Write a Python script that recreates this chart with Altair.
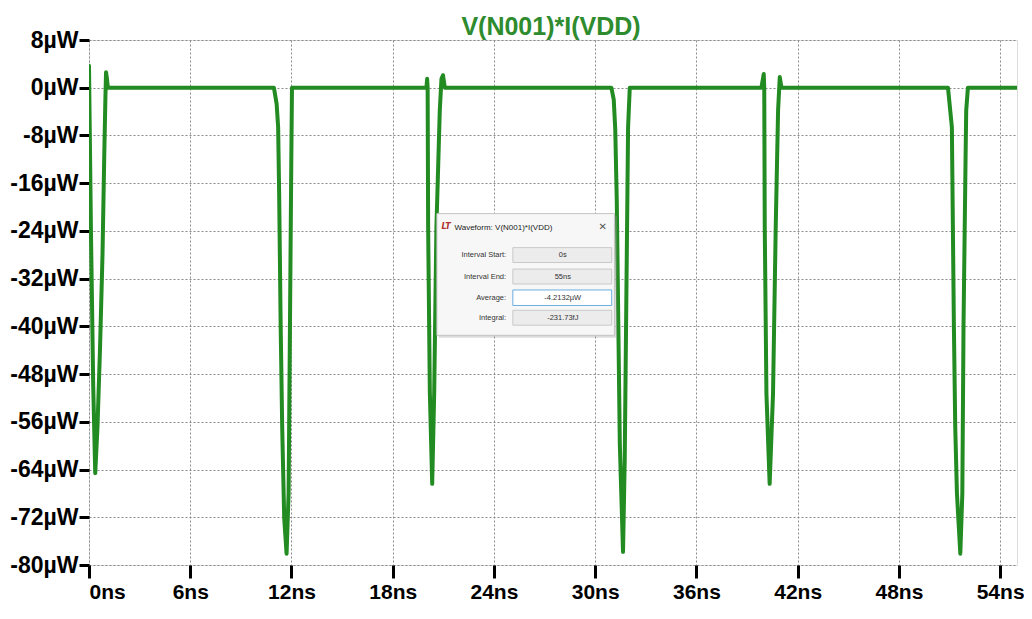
import altair as alt
import pandas as pd

# ---- waveform samples ----
time_ns = [0.00, 0.12, 0.25, 0.37, 0.50, 0.65, 0.80, 0.90, 0.97, 1.01, 1.06, 1.12,
           10.96, 11.12, 11.21, 11.27, 11.36, 11.45, 11.57, 11.71, 11.83, 11.91, 11.99, 12.03,
           20.00, 20.04, 20.07, 20.10, 20.20, 20.34, 20.46, 20.59, 20.79, 20.89, 20.98, 21.09,
           30.96, 31.10, 31.19, 31.28, 31.46, 31.65, 31.75, 31.85, 31.95, 32.05,
           39.85, 39.99, 40.02, 40.05, 40.15, 40.34, 40.54, 40.70, 40.84, 40.94, 41.04,
           50.91, 51.14, 51.20, 51.26, 51.34, 51.44, 51.64, 51.76, 51.83, 51.95, 51.99, 52.09,
           55.00]
power_uw = [3.7, -25, -50, -64.6, -57, -44, -28, -12, -2, 2.6, 1.6, 0,
            0, -2.7, -6.6, -17.7, -40, -56.9, -72.2, -78.1, -68, -40, -12.2, 0,
            0, 1.5, 0, -23.4, -51, -66.4, -51, -23.4, -3.8, 1.5, 2.1, 0,
            0, -2, -7, -19, -59.7, -77.8, -62.5, -34.5, -6.6, 0,
            0, 2.3, 0, -23.4, -51.3, -66.4, -51.3, -23.4, -3.8, 1.8, 0,
            0, -6.6, -23.4, -40.1, -56.9, -68, -78.1, -68, -40, -12.2, -3.8, 0,
            0]

x_ticks = [0, 6, 12, 18, 24, 30, 36, 42, 48, 54]
y_ticks = [-80, -72, -64, -56, -48, -40, -32, -24, -16, -8, 0, 8]

title_text = "V(N001)*I(VDD)"
dialog_title = "Waveform: V(N001)*I(VDD)"
dialog_labels = ["Interval Start:", "Interval End:", "Average:", "Integral:"]
dialog_values = ["0s", "55ns", "-4.2132µW", "-231.73fJ"]

FONT = "Liberation Sans"
GREEN = "#228b22"

wave = pd.DataFrame({"t": time_ns, "p": power_uw})

xs = alt.Scale(domain=[0, 55], nice=False, zero=False)
ys = alt.Scale(domain=[-80, 8], nice=False, zero=False)

xax = alt.Axis(values=x_ticks, labelExpr="datum.value + 'ns'", title=None,
               labelFont=FONT, labelFontSize=21, labelFontWeight="bold", labelColor="black",
               tickSize=13, tickWidth=3, tickColor="black", domain=False, labelPadding=3,
               grid=True, gridDash=[2, 2], gridColor="#8a8a8a", gridWidth=1)
yax = alt.Axis(values=y_ticks, labelExpr="datum.value + 'µW'", title=None,
               labelFont=FONT, labelFontSize=23, labelFontWeight="bold", labelColor="black",
               tickSize=10, tickWidth=3, tickColor="black", domain=False, labelPadding=1,
               labelBaseline="middle",
               grid=True, gridDash=[2, 2], gridColor="#8a8a8a", gridWidth=1)

line = alt.Chart(wave).mark_line(color=GREEN, strokeWidth=4, clip=True,
                                 strokeJoin="round", strokeCap="round").encode(
    x=alt.X("t:Q", scale=xs, axis=xax),
    y=alt.Y("p:Q", scale=ys, axis=yax),
)

title_l = alt.Chart(pd.DataFrame({"s": [title_text]})).mark_text(
    align="center", baseline="alphabetic", font=FONT, fontSize=25, fontWeight="bold",
    color="#2e8b2e").encode(x=alt.value(462), y=alt.value(-5), text="s:N")

# ---- Waveform dialog (annotation placed in data coordinates) ----
dlg = pd.DataFrame({"x": [20.62], "x2": [31.14], "y": [-21.1], "y2": [-41.5]})
shadow = pd.DataFrame({"x": [20.72], "x2": [31.3], "y": [-21.4], "y2": [-41.9]})
box_y = [-26.8, -30.4, -33.9, -37.3]
box_y2 = [-29.3, -32.9, -36.5, -39.8]
boxes = pd.DataFrame({"x": [25.12] * 4, "x2": [30.98] * 4, "y": box_y, "y2": box_y2,
                      "active": [0, 0, 1, 0]})
rows = pd.DataFrame({"lab": dialog_labels, "val": dialog_values,
                     "yc": [(a + b) / 2 for a, b in zip(box_y, box_y2)]})

shadow_l = alt.Chart(shadow).mark_rect(color="#999999", opacity=0.35).encode(
    x=alt.X("x:Q", scale=xs), x2="x2", y=alt.Y("y:Q", scale=ys), y2="y2")
dlg_l = alt.Chart(dlg).mark_rect(fill="#f7f7f7", stroke="#c4c4c4", strokeWidth=1).encode(
    x=alt.X("x:Q", scale=xs), x2="x2", y=alt.Y("y:Q", scale=ys), y2="y2")
box_l = alt.Chart(boxes).mark_rect(strokeWidth=1).encode(
    x=alt.X("x:Q", scale=xs), x2="x2", y=alt.Y("y:Q", scale=ys), y2="y2",
    fill=alt.condition("datum.active == 1", alt.value("#ffffff"), alt.value("#ececec")),
    stroke=alt.condition("datum.active == 1", alt.value("#6aaee0"), alt.value("#c9c9c9")),
)
lab_l = alt.Chart(rows).mark_text(align="right", baseline="middle", font=FONT,
                                  fontSize=7.5, color="#333333").encode(
    x=alt.datum(24.72, scale=xs), y=alt.Y("yc:Q", scale=ys), text="lab:N")
val_l = alt.Chart(rows).mark_text(align="center", baseline="middle", font=FONT,
                                  fontSize=7.5, color="#333333").encode(
    x=alt.datum(28.08, scale=xs), y=alt.Y("yc:Q", scale=ys), text="val:N")
ttl_l = alt.Chart(pd.DataFrame({"s": [dialog_title]})).mark_text(
    align="left", baseline="middle", font=FONT, fontSize=8, color="#222222").encode(
    x=alt.datum(21.66, scale=xs), y=alt.datum(-23.5, scale=ys), text="s:N")
icon_l = alt.Chart(pd.DataFrame({"s": ["LT"]})).mark_text(
    align="center", baseline="middle", font="DejaVu Sans", fontSize=8, fontWeight="bold",
    fontStyle="italic", color="#b03030").encode(
    x=alt.datum(21.17, scale=xs), y=alt.datum(-23.4, scale=ys), text="s:N")
close_l = alt.Chart(pd.DataFrame({"s": ["✕"]})).mark_text(
    align="center", baseline="middle", font="DejaVu Sans", fontSize=10, color="#555555").encode(
    x=alt.datum(30.45, scale=xs), y=alt.datum(-23.4, scale=ys), text="s:N")

chart = alt.layer(line, shadow_l, dlg_l, box_l, lab_l, val_l, ttl_l, icon_l, close_l,
                  title_l).properties(
    width=928, height=525,
    autosize=alt.AutoSizeParams(type="none"),
    padding={"left": 81, "top": 32, "right": 7, "bottom": 38},
).configure_view(stroke="black", strokeWidth=3).configure(background="white")

chart.save("out.html", embed_options={"renderer": "svg", "actions": False})
